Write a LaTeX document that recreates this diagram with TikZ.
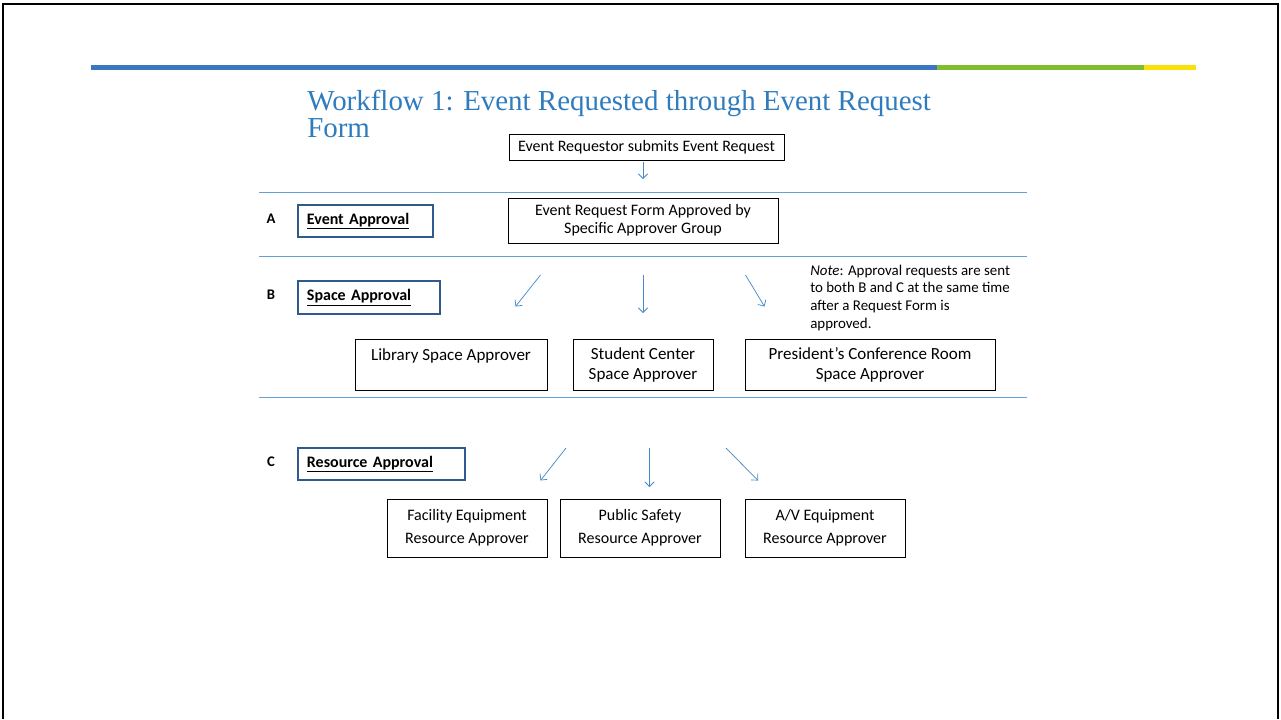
\documentclass[tikz,border=0pt]{standalone}
\usepackage{fontspec}
\setmainfont{Carlito}
\newfontfamily\titlefont{Liberation Serif}
\usetikzlibrary{arrows.meta}

\definecolor{barblue}{RGB}{58,119,191}
\definecolor{bargreen}{RGB}{128,190,46}
\definecolor{baryellow}{RGB}{249,224,10}
\definecolor{titleblue}{RGB}{46,124,190}
\definecolor{ruleblue}{RGB}{100,160,215}
\definecolor{arrowblue}{RGB}{70,138,203}
\definecolor{tagblue}{RGB}{46,90,140}

\tikzset{
  frame/.style={line width=1.5pt, black},
  rule/.style={line width=0.75pt, ruleblue},
  flow/.style={line width=0.55pt, arrowblue, -{Straight Barb[length=3.5pt, width=7pt, line width=0.55pt]}},
  box/.style={draw=black, line width=0.65pt, align=center, inner sep=0pt,
              font=\fontsize{12}{15}\selectfont},
  tag/.style={draw=tagblue, line width=1.4pt, anchor=west, align=left,
              inner xsep=6.75pt, inner ysep=0pt, font=\fontsize{12}{14}\selectfont\bfseries},
  letter/.style={font=\fontsize{11}{13}\selectfont\bfseries, inner sep=0pt},
}

\begin{document}
\begin{tikzpicture}[x=0.75pt, y=-0.75pt]
\useasboundingbox (0,0) rectangle (1281,719);

% page frame (open at the bottom)
\draw[frame] (3,719) -- (3,4) -- (1278,4) -- (1278,719);

% coloured header bar
\fill[barblue]   (91,65)   rectangle (937,70);
\fill[bargreen]  (937,65)  rectangle (1144,70);
\fill[baryellow] (1144,65) rectangle (1196,70);

% title
\node[anchor=north west, inner sep=0pt, align=left, text=titleblue,
      font=\titlefont\fontsize{21.7}{20.5}\selectfont] (title) at (307,89.5)
  {Workflow 1: Event Requested through Event Request\\Form};

% band separators
\draw[rule] (259,192) -- (1027,192);
\draw[rule] (259,256) -- (1027,256);
\draw[rule] (259,397) -- (1027,397);

% request and form approval
\node[box, minimum width=206.25pt, minimum height=19.5pt] (req) at (646.5,147)
  {Event Requestor submits Event Request};
\node[box, minimum width=202.5pt, minimum height=33.75pt,
      font=\fontsize{12}{13.5}\selectfont] (form) at (643,220.5)
  {Event Request Form Approved by\\Specific Approver Group};

\coordinate (r1) at (643,162);
\coordinate (r2) at (643,179);
\draw[flow] (r1) -- (r2);

% stage labels
\node[letter] (la) at (271,219) {A};
\node[letter] (lb) at (271,295) {B};
\node[letter] (lc) at (271,462) {C};

\node[tag, minimum height=24pt, text width=87.75pt] (ta) at (297,221) {\underline{Event Approval}};
\node[tag, minimum height=24.75pt, text width=93pt] (tb) at (297,297.5) {\underline{Space Approval}};
\node[tag, minimum height=24pt, text width=111.75pt] (tc) at (297,464) {\underline{Resource Approval}};

% note
\node[anchor=north west, inner sep=0pt, align=left,
      font=\fontsize{11.2}{13.3}\selectfont] (note) at (810,264.5)
  {\textit{Note}: Approval requests are sent\\to both B and C at the same time\\after a Request Form is\\approved.};

% space approvers
\coordinate (b1s) at (540.5,275);  \coordinate (b1e) at (515.5,306.5);
\coordinate (b2s) at (643,275);    \coordinate (b2e) at (643,313);
\coordinate (b3s) at (745.5,275);  \coordinate (b3e) at (764.5,306.5);
\draw[flow] (b1s) -- (b1e);
\draw[flow] (b2s) -- (b2e);
\draw[flow] (b3s) -- (b3e);

\node[box, minimum width=144pt, minimum height=38.25pt,
      font=\fontsize{12.75}{15}\selectfont] (lib) at (451,364.5)
  {Library Space Approver\\\mbox{}};
\node[box, minimum width=105pt, minimum height=38.25pt,
      font=\fontsize{12.75}{15}\selectfont] (stu) at (643,364.5)
  {Student Center\\Space Approver};
\node[box, minimum width=187.5pt, minimum height=38.25pt,
      font=\fontsize{12.75}{15}\selectfont] (pres) at (870,364.5)
  {President’s Conference Room\\Space Approver};

% resource approvers
\coordinate (c1s) at (566,448);  \coordinate (c1e) at (540.5,480.5);
\coordinate (c2s) at (649.5,448);\coordinate (c2e) at (649.5,487);
\coordinate (c3s) at (726,448);  \coordinate (c3e) at (758,480.5);
\draw[flow] (c1s) -- (c1e);
\draw[flow] (c2s) -- (c2e);
\draw[flow] (c3s) -- (c3e);

\node[box, minimum width=120pt, minimum height=43.5pt,
      font=\fontsize{12}{17}\selectfont] (fac) at (467,528)
  {Facility Equipment\\Resource Approver};
\node[box, minimum width=120pt, minimum height=43.5pt,
      font=\fontsize{12}{17}\selectfont] (pub) at (640,528)
  {Public Safety\\Resource Approver};
\node[box, minimum width=120pt, minimum height=43.5pt,
      font=\fontsize{12}{17}\selectfont] (av) at (825,528)
  {A/V Equipment\\Resource Approver};
\end{tikzpicture}
\end{document}
